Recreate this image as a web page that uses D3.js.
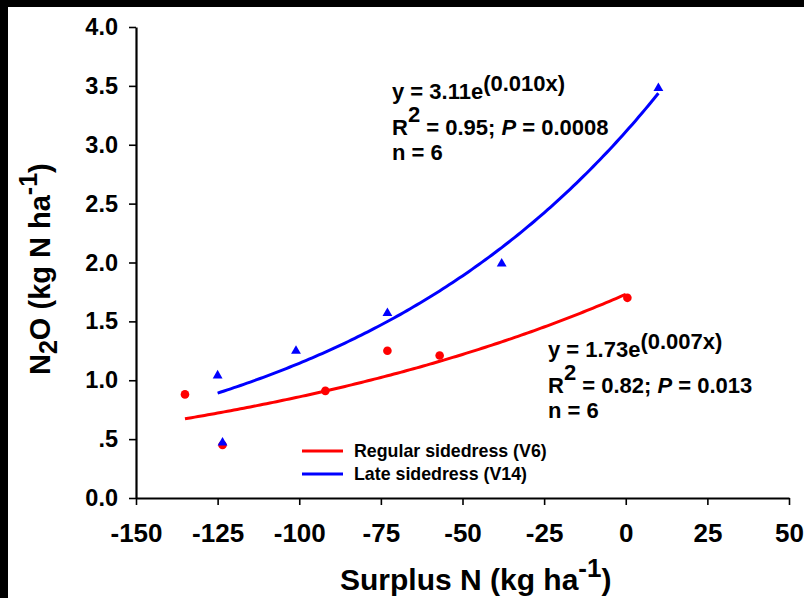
<!DOCTYPE html>
<html>
<head>
<meta charset="utf-8">
<script src="https://cdn.jsdelivr.net/npm/d3@7"></script>
<style>
  body { margin: 0; background: #000; }
  svg { display: block; font-family: Arial, "Liberation Sans", sans-serif; font-weight: bold; }
</style>
</head>
<body>
<div id="chart"></div>
<script>
// Surplus N (x) vs N2O emission (y), two sidedress timings
var regularX = [-135, -123.5, -92, -73, -57, 0.5];
var regularY = [0.88, 0.45, 0.91, 1.25, 1.21, 1.70];
var lateX = [-125, -123.5, -101, -73, -38, 10];
var lateY = [1.04, 0.47, 1.25, 1.57, 1.99, 3.48];

// exponential fits y = a * e^(b x)
var fitA = [1.73, 3.11];
var fitB = [0.007, 0.010];
var fitFrom = [-135, -125];
var fitTo = [0.5, 10];

var xTicks = [-150, -125, -100, -75, -50, -25, 0, 25, 50];
var yTicks = [0, 0.5, 1, 1.5, 2, 2.5, 3, 3.5, 4];
var yTickLabels = ["0.0", ".5", "1.0", "1.5", "2.0", "2.5", "3.0", "3.5", "4.0"];
var seriesNames = ["Regular sidedress (V6)", "Late sidedress (V14)"];
var colors = ["#ff0000", "#0000ff"];

(function() {
    var width = 804, height = 598;
    var mLeft = 136, mRight = 789, mTop = 27, mBottom = 498;

    var svg = d3.select("#chart").append("svg")
        .attr("width", width)
        .attr("height", height);

    // black frame on top and left edge
    svg.append("rect").attr("width", width).attr("height", height).attr("fill", "#000");
    svg.append("rect").attr("x", 8).attr("y", 7)
        .attr("width", width - 8).attr("height", height - 7).attr("fill", "#fff");

    var x = d3.scaleLinear().domain([-150, 50]).range([mLeft, mRight]);
    var y = d3.scaleLinear().domain([0, 4]).range([mBottom, mTop]);

    // Axes
    var xAxis = svg.append("g")
        .attr("transform", "translate(0," + mBottom + ")")
        .call(d3.axisBottom(x).tickValues(xTicks).tickSize(7).tickSizeOuter(0).tickPadding(19));
    xAxis.select(".domain").attr("stroke-width", 2.2);
    xAxis.selectAll(".tick line").attr("stroke-width", 1.6);
    xAxis.selectAll("text").attr("font-size", 26).attr("font-weight", "bold")
        .attr("fill", "#000").attr("font-family", "Arial, 'Liberation Sans', sans-serif")
        .text(function(d) { return d < 0 ? "-" + Math.abs(d) : d; });

    var yAxis = svg.append("g")
        .attr("transform", "translate(" + mLeft + ",0)")
        .call(d3.axisLeft(y).tickValues(yTicks).tickSize(7).tickSizeOuter(0).tickPadding(11)
            .tickFormat(function(d, i) { return yTickLabels[i]; }));
    yAxis.select(".domain").attr("stroke-width", 2.2);
    yAxis.selectAll(".tick line").attr("stroke-width", 1.6);
    yAxis.selectAll("text").attr("font-size", 23.5).attr("font-weight", "bold")
        .attr("fill", "#000").attr("font-family", "Arial, 'Liberation Sans', sans-serif");

    // Axis titles
    var xTitle = svg.append("text")
        .attr("x", 340).attr("y", 590)
        .attr("font-size", 30);
    xTitle.append("tspan").text("Surplus N (kg ha");
    xTitle.append("tspan").attr("dy", -13).attr("font-size", 26).text("-1");
    xTitle.append("tspan").attr("dy", 13).text(")");

    var yTitle = svg.append("text")
        .attr("transform", "translate(50,375) rotate(-90)")
        .attr("font-size", 29);
    yTitle.append("tspan").text("N");
    yTitle.append("tspan").attr("dy", 7).attr("font-size", 25).text("2");
    yTitle.append("tspan").attr("dy", -7).text("O (kg N ha");
    yTitle.append("tspan").attr("dy", -13).attr("font-size", 25).text("-1");
    yTitle.append("tspan").attr("dy", 13).text(")");

    // Fitted curves
    var line = d3.line()
        .x(function(d) { return x(d[0]); })
        .y(function(d) { return y(d[1]); });

    fitA.forEach(function(a, i) {
        var pts = d3.range(fitFrom[i], fitTo[i] + 0.01, 1).map(function(v) {
            return [v, a * Math.exp(fitB[i] * v)];
        });
        svg.append("path")
            .datum(pts)
            .attr("d", line)
            .attr("fill", "none")
            .attr("stroke", colors[i])
            .attr("stroke-width", 3);
    });

    // Points
    svg.append("g").selectAll("circle")
        .data(d3.zip(regularX, regularY))
        .enter().append("circle")
        .attr("cx", function(d) { return x(d[0]); })
        .attr("cy", function(d) { return y(d[1]); })
        .attr("r", 4.3)
        .attr("fill", colors[0]);

    var tri = d3.symbol().type(d3.symbolTriangle).size(42);
    svg.append("g").selectAll("path")
        .data(d3.zip(lateX, lateY))
        .enter().append("path")
        .attr("d", tri)
        .attr("transform", function(d) { return "translate(" + x(d[0]) + "," + y(d[1]) + ")"; })
        .attr("fill", colors[1]);

    // Equation labels
    function equation(px, py, a, b, r2, p, n) {
        var g = svg.append("g").attr("font-size", 22);
        var l1 = g.append("text").attr("x", px).attr("y", py);
        l1.append("tspan").text("y = " + a + "e");
        l1.append("tspan").attr("dy", -8).text("(" + b + "x)");
        var l2 = g.append("text").attr("x", px).attr("y", py + 36);
        l2.append("tspan").text("R");
        l2.append("tspan").attr("dy", -13).text("2");
        l2.append("tspan").attr("dy", 13).text(" = " + r2 + "; ");
        l2.append("tspan").attr("font-style", "italic").text("P");
        l2.append("tspan").text(" = " + p);
        g.append("text").attr("x", px).attr("y", py + 61).text("n = " + n);
    }
    equation(392, 99, "3.11", "0.010", "0.95", "0.0008", 6);
    equation(548, 357, "1.73", "0.007", "0.82", "0.013", 6);

    // Legend
    var legend = svg.append("g");
    seriesNames.forEach(function(name, i) {
        var ly = 451 + i * 23;
        legend.append("line")
            .attr("x1", 302).attr("x2", 343)
            .attr("y1", ly).attr("y2", ly)
            .attr("stroke", colors[i]).attr("stroke-width", 3);
        legend.append("text")
            .attr("x", 354).attr("y", ly + 6)
            .attr("font-size", 17.8)
            .text(name);
    });
})();
</script>
</body>
</html>
